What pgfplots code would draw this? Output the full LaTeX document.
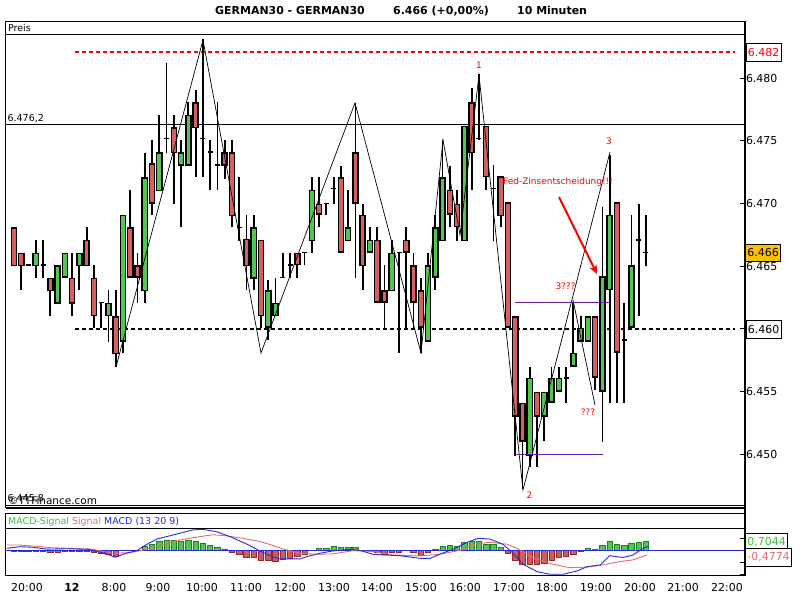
\documentclass[border=0pt]{standalone}
\usepackage{fontspec}
\setmainfont{DejaVu Sans}
\usepackage{pgfplots}
\pgfplotsset{compat=1.18}
\usepackage{pgfplotstable}
\usetikzlibrary{arrows.meta}

\definecolor{cgreen}{RGB}{80,200,80}
\definecolor{cred}{RGB}{215,95,95}
\definecolor{hgreen}{RGB}{80,200,80}
\definecolor{hgreenD}{RGB}{30,130,30}
\definecolor{hred}{RGB}{210,90,90}
\definecolor{hredD}{RGB}{150,40,40}
\definecolor{mblue}{RGB}{40,40,225}
\definecolor{sred}{RGB}{230,110,110}
\definecolor{tgreen}{RGB}{60,190,60}
\definecolor{gold}{RGB}{255,192,0}
\definecolor{purp}{RGB}{110,30,160}

% candles: x = candle index (10 min each), o h l c
\pgfplotstableread{
x o h l c
3 6465.0 6467.1 6464.1 6466.1
6 6462.0 6465.1 6462.0 6465.1
7 6464.1 6466.1 6464.1 6466.1
9 6465.0 6466.1 6463.1 6466.1
13 6461.0 6463.1 6459.0 6462.1
15 6459.0 6469.1 6458.1 6469.1
18 6463.0 6474.0 6462.1 6472.1
20 6471.0 6477.1 6471.0 6474.1
23 6473.0 6475.1 6468.1 6474.1
24 6473.0 6478.1 6473.0 6477.1
33 6464.0 6469.1 6463.1 6468.1
35 6460.1 6463.9 6459.1 6463.1
36 6461.0 6464.1 6461.0 6462.1
41 6467.0 6472.1 6466.1 6471.1
46 6467.0 6471.1 6467.0 6468.1
49 6466.1 6468.1 6466.1 6467.1
52 6463.0 6467.1 6463.0 6466.1
57 6459.0 6466.1 6459.0 6465.1
58 6464.1 6469.1 6463.1 6468.1
59 6467.0 6475.1 6467.0 6472.1
62 6467.0 6476.2 6467.0 6476.2
71 6449.9 6457.0 6449.0 6456.1
73 6453.0 6455.0 6451.1 6455.0
74 6454.1 6457.0 6454.1 6456.1
75 6455.0 6457.0 6455.0 6456.1
77 6457.0 6462.1 6457.0 6458.1
78 6459.0 6461.0 6459.0 6460.1
79 6459.0 6461.0 6459.0 6461.0
81 6455.0 6469.7 6451.0 6464.2
82 6463.1 6473.9 6454.1 6469.1
85 6460.1 6469.1 6460.1 6465.1
}\greens

\pgfplotstableread{
x o h l c
0 6468.1 6468.1 6465.0 6465.0
1 6466.1 6466.1 6463.1 6465.0
5 6464.1 6464.1 6461.0 6463.0
8 6464.1 6466.1 6461.0 6462.0
10 6467.1 6468.1 6465.0 6465.0
11 6464.1 6465.1 6460.1 6461.0
14 6461.0 6463.1 6457.0 6458.0
16 6468.1 6471.1 6464.1 6464.1
17 6465.1 6466.1 6462.1 6464.1
19 6473.2 6475.1 6469.1 6470.0
22 6476.1 6477.1 6470.0 6474.0
25 6478.1 6479.1 6472.1 6476.0
29 6474.1 6475.1 6472.0 6473.0
30 6474.1 6475.1 6468.1 6469.0
32 6467.2 6469.1 6463.1 6465.0
34 6467.1 6467.1 6460.1 6461.0
39 6466.1 6466.1 6464.1 6465.1
42 6470.0 6472.1 6468.1 6469.1
45 6472.1 6473.0 6466.1 6466.1
47 6474.1 6478.0 6464.1 6470.0
48 6469.1 6470.0 6463.1 6465.0
50 6467.1 6468.1 6462.1 6462.1
51 6463.1 6465.1 6460.1 6462.1
54 6467.1 6468.1 6460.1 6466.1
55 6465.1 6466.1 6460.1 6462.1
56 6463.1 6464.1 6458.1 6460.1
60 6471.1 6473.0 6468.1 6469.1
61 6470.0 6471.1 6467.0 6468.1
63 6478.1 6479.2 6471.1 6474.0
65 6476.2 6476.2 6471.1 6472.1
67 6472.2 6472.2 6468.1 6469.0
68 6470.1 6470.1 6460.1 6460.1
69 6461.0 6461.0 6449.9 6453.0
70 6454.1 6454.1 6447.2 6451.0
72 6455.0 6455.0 6449.0 6453.0
80 6461.0 6461.0 6455.1 6456.1
83 6470.1 6470.1 6454.1 6458.1
}\reds

\pgfplotstableread{
x o h l c
2 6465.1 6465.1 6465.1 6465.1
4 6465.1 6467.1 6464.1 6465.1
12 6462.1 6462.1 6460.1 6462.1
21 6475.2 6481.2 6474.0 6475.2
26 6475.2 6483.1 6472.1 6475.2
27 6474.1 6475.1 6471.1 6474.1
28 6473.1 6478.1 6471.1 6473.1
31 6468.1 6472.1 6467.0 6468.1
37 6464.1 6466.1 6464.1 6464.1
38 6465.1 6466.1 6464.1 6465.1
40 6466.1 6466.1 6465.1 6466.1
43 6470.0 6470.0 6469.1 6470.0
44 6471.2 6472.1 6470.0 6471.2
53 6466.1 6466.1 6458.1 6466.1
64 6475.2 6480.3 6475.1 6475.2
66 6471.2 6473.1 6467.0 6471.2
76 6456.1 6457.0 6454.1 6456.1
84 6459.1 6462.1 6454.1 6459.1
86 6467.1 6470.0 6461.0 6467.1
87 6466.1 6469.1 6465.0 6466.1
}\dojis

\tikzset{tlab/.style={font=\fontsize{11}{12}\selectfont},
  px/.style={x=1bp, y=-1bp, yshift=600bp}}
\pgfplotsset{
  candle/.style={only marks, mark=*, mark size=0pt, mark options={draw=none, fill=none}, forget plot,
    error bars/y dir=plus, error bars/y explicit, error bars/error mark=none,
    error bars/error bar style={#1}},
}

\begin{document}
\begin{tikzpicture}
\fill[white] (0bp,0bp) rectangle (800bp,600bp);
\path[use as bounding box] (0bp,0bp) rectangle (800bp,600bp);

% frames and horizontal lines, drawn in picture pixels (y downward)
\begin{scope}[px]
  \draw[line width=1bp] (5.7,21.5) rectangle (745,35);
  \draw[line width=1bp] (5.7,35) -- (5.7,508);
  \draw[line width=1bp] (5.7,505.5) -- (745,505.5);
  \draw[line width=1.4bp] (5.7,508) -- (745,508);
  \draw[line width=1bp] (5.7,514) rectangle (745,529);
  \draw[line width=1bp] (5.7,529) -- (5.7,576) -- (745,576);
  \draw[line width=1bp] (5.7,125) -- (745,125);
  \draw[red, line width=1.7bp, dash pattern=on 4bp off 3bp] (75,51.7) -- (735,51.7);
  \draw[black, line width=1.7bp, dash pattern=on 4bp off 3bp] (75,329) -- (735,329);
\end{scope}

% price panel
\begin{axis}[at={(5.7bp,95bp)}, anchor=south west, scale only axis,
  width=739.3bp, height=470bp,
  xmin=-1.143, xmax=100.63, ymin=6445.96, ymax=6483.45,
  axis line style={draw=none},
  xtick=\empty,
  ytick={6450,6455,6460,6465,6470,6475,6480},
  yticklabels={6.450,6.455,,6.465,6.470,6.475,6.480},
  ytick pos=right, yticklabel pos=right,
  tick align=inside, major tick length=5.5bp,
  tick style={black, line width=1bp},
  yticklabel style={tlab, xshift=-2.5bp},
]
% wicks
\addplot[candle={line width=1.8bp, black}] table[x=x, y=l, y error plus expr=\thisrow{h}-\thisrow{l}] {\greens};
\addplot[candle={line width=1.8bp, black}] table[x=x, y=l, y error plus expr=\thisrow{h}-\thisrow{l}] {\reds};
\addplot[candle={line width=1.8bp, black}] table[x=x, y=l, y error plus expr=\thisrow{h}-\thisrow{l}] {\dojis};
% bodies: black outline, then coloured inside
\addplot[candle={line width=6.6bp, black}] table[x=x, y=o, y error plus expr=\thisrow{c}-\thisrow{o}] {\greens};
\addplot[candle={line width=3.6bp, cgreen}] table[x=x, y expr=\thisrow{o}+0.12, y error plus expr=\thisrow{c}-\thisrow{o}-0.24] {\greens};
\addplot[candle={line width=6.6bp, black}] table[x=x, y=c, y error plus expr=\thisrow{o}-\thisrow{c}] {\reds};
\addplot[candle={line width=3.6bp, cred}] table[x=x, y expr=\thisrow{c}+0.12, y error plus expr=\thisrow{o}-\thisrow{c}-0.24] {\reds};
\addplot[only marks, mark=-, mark size=2.5bp, mark options={line width=1.6bp, black}, forget plot] table[x=x, y=o] {\dojis};
\end{axis}

% MACD panel
\begin{axis}[at={(5.7bp,24bp)}, anchor=south west, scale only axis,
  width=739.3bp, height=47bp,
  xmin=-1.143, xmax=100.63, ymin=-2.142, ymax=1.775,
  axis line style={draw=none},
  xtick={1.79,7.98,13.77,19.82,25.88,31.94,38.00,44.05,49.97,56.03,62.09,68.14,74.06,80.12,86.18,92.10,98.15},
  xticklabels={20:00,\textbf{12},8:00,9:00,10:00,11:00,12:00,13:00,14:00,15:00,16:00,17:00,18:00,19:00,20:00,21:00,22:00},
  xticklabel style={tlab, yshift=-4bp},
  x tick style={draw=none},
  ytick={-2,-1,1}, yticklabels={,,},
  ytick pos=right,
  tick align=inside, major tick length=5.5bp,
  y tick style={black, line width=1bp},
]
\addplot[ybar, bar width=5.4bp, bar shift=0pt, fill=hgreen, draw=hgreenD, line width=0.7bp] coordinates {
(18,0.33)(19,0.5)(20,0.72)(21,0.8)(22,0.8)(23,0.72)(24,0.8)(25,0.72)(26,0.58)(27,0.44)(28,0.28)(29,0.11)
(42,0.17)(43,0.17)(44,0.33)(45,0.22)(46,0.22)(47,0.22)
(58,0.11)(59,0.33)(60,0.44)(61,0.33)(62,0.67)(63,0.72)(64,0.78)(65,0.53)(66,0.5)(67,0.25)
(79,0.17)(80,0.11)(81,0.39)(82,0.78)(83,0.5)(84,0.44)(85,0.61)(86,0.67)(87,0.78)};
\addplot[ybar, bar width=5.4bp, bar shift=0pt, fill=hred, draw=hredD, line width=0.7bp] coordinates {
(0,-0.11)(1,-0.11)(2,-0.11)(3,-0.11)(4,-0.11)(5,-0.17)(6,-0.17)(7,-0.11)(8,-0.11)(9,-0.11)(10,-0.11)
(11,-0.17)(12,-0.25)(13,-0.33)(14,-0.47)
(30,-0.17)(31,-0.33)(32,-0.58)(33,-0.58)(34,-0.8)(35,-0.8)(36,-0.94)(37,-0.72)(38,-0.67)(39,-0.53)(40,-0.33)
(50,-0.17)(51,-0.33)(52,-0.17)(53,-0.17)(55,-0.17)(56,-0.4)(57,-0.17)
(68,-0.25)(69,-0.83)(70,-1.17)(71,-1.17)(72,-1.17)(73,-1.08)(74,-0.8)(75,-0.6)(76,-0.53)(77,-0.33)(78,-0.11)};
\draw[mblue, line width=1bp] (axis cs:-1.143,0) -- (axis cs:100.63,0);
% signal
\addplot[sred, line width=0.9bp, mark=none] coordinates {
(-0.96,0.44)(0.83,0.44)(2.6,0.36)(5,0.22)(7.3,0.17)(10.5,0.11)(11.8,-0.03)(13.6,-0.25)(15.6,-0.2)(17.3,-0.05)
(19.1,0.22)(21.9,0.75)(24.6,1.05)(27.4,1.3)(29.3,1.2)(31.5,1.0)(33.9,0.72)(35.7,0.39)(37,0.11)(39.4,-0.25)
(41.7,-0.33)(43.9,-0.3)(46.7,-0.03)(49.4,-0.1)(52.2,-0.4)(55.9,-0.47)(58.6,-0.33)(61.4,0)(63.2,0.5)(65.5,0.67)
(67.9,0.5)(69.2,0.17)(71.4,-0.6)(73.8,-1.1)(76.5,-1.45)(78.9,-1.4)(81.1,-1.22)(83.4,-0.94)(85.2,-0.8)(87.1,-0.4)};
% MACD
\addplot[mblue, line width=0.9bp, mark=none] coordinates {
(-0.96,0.17)(0.83,0.3)(2.6,0.25)(4.5,0.1)(7.3,0.13)(10.2,0.08)(11.4,-0.1)(12.8,-0.3)(13.9,-0.58)(15,-0.33)
(16.9,-0.03)(18.3,0.5)(19.7,0.94)(21.9,1.28)(24.6,1.7)(26,1.75)(27.9,1.55)(30.1,1.05)(32.1,0.5)(33.6,0.03)
(35.2,-0.45)(36.6,-0.72)(39.4,-0.72)(40.3,-0.53)(42.1,-0.25)(43.9,-0.05)(46.3,0.08)(47.6,0)(49.4,-0.33)(51.3,-0.4)
(53.1,-0.45)(55.9,-0.67)(57.3,-0.67)(58.6,-0.33)(60.4,0.08)(62.4,0.67)(63.9,1.0)(65.5,0.94)(67.3,0.5)(68.7,-0.25)
(70.1,-1.17)(72,-1.78)(73.8,-2.0)(75.6,-2.0)(77.5,-1.72)(78.9,-1.36)(80.7,-1.22)(82,-0.45)(83.8,-0.6)(85.2,-0.4)
(86.6,0.17)(87.3,0.33)};
\end{axis}

% annotations and labels
\begin{scope}[px]
  \draw[line width=1.7bp] (745,21.5) -- (745,576);
  % zigzag
  \draw[line width=0.7bp] (116,367) -- (203,40) -- (261,353) -- (355,103) -- (421,353) -- (443,140)
     -- (460,235) -- (479,75) -- (523,490) -- (610,152);
  \draw[line width=0.7bp] (573,300) -- (595,405);
  \draw[purp, line width=1bp] (515,303) -- (610,303);
  \draw[purp, line width=1bp] (515,455) -- (603,455);
  \draw[red, line width=2bp, -{Stealth[length=9bp, width=8bp]}] (559,197) -- (597,274);
  % red notes
  \begin{scope}[font=\fontsize{9}{10}\selectfont, red]
    \node at (479,65.5) {1};
    \node at (529.5,495.5) {2};
    \node at (609,141) {3};
    \node at (565.5,286.5) {3???};
    \node at (588,412) {???};
    \node[anchor=west, inner sep=0pt] at (503,182.5) {Fed-Zinsentscheidung!!!};
  \end{scope}
  % header texts
  \begin{scope}[font=\fontsize{9.5}{11}\selectfont]
    \node[anchor=base west, inner sep=0pt] at (8,31.5) {Preis};
    \node[anchor=base west, inner sep=0pt] at (7.5,122) {6.476,2};
    \node[anchor=base west, inner sep=0pt] at (7.5,501.5) {6.445,8};
    \node[anchor=base west, inner sep=0pt] at (8,504.5) {\fontsize{10.5}{11}\selectfont ©TTFinance.com};
    \node[anchor=base west, inner sep=0pt] at (8,524.5) {\textcolor{tgreen}{MACD-Signal} \textcolor{sred}{Signal} \textcolor{mblue}{MACD (13 20 9)}};
  \end{scope}
  % title
  \begin{scope}[font=\bfseries\fontsize{11}{12}\selectfont]
    \node[anchor=base west, inner sep=0pt] at (215,15) {GERMAN30 - GERMAN30};
    \node[anchor=base west, inner sep=0pt] at (393,15) {6.466 (+0,00\%)};
    \node[anchor=base west, inner sep=0pt] at (517,15) {10 Minuten};
  \end{scope}
  % value boxes on the right
  \begin{scope}[every node/.style={tlab, draw=black, line width=0.8bp, anchor=west,
      inner xsep=2bp, minimum height=17.5bp, fill=white}]
    \node[text=red] at (745.5,52.3) {6.482};
    \node at (745.5,329.5) {6.460};
    \node[fill=gold] at (745,253) {6.466};
    \node[text=tgreen] at (745,542.5) {0,7044};
    \node[text=sred] at (745,557.5) {-0,4774};
  \end{scope}
  \begin{scope}
    \clip (746,560) rectangle (800,576);
    \node[tlab, anchor=west, inner sep=1bp] at (746,580) {-2};
  \end{scope}
\end{scope}
\end{tikzpicture}
\end{document}
